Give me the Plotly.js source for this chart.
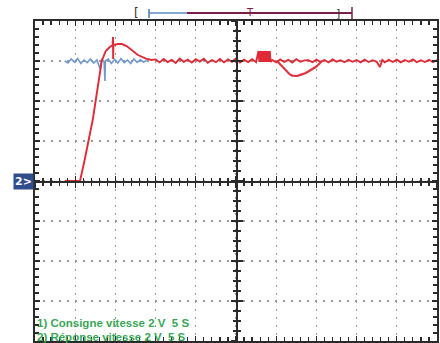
<!DOCTYPE html>
<html>
<head>
<meta charset="utf-8">
<script src="https://cdn.plot.ly/plotly-3.0.1.min.js"></script>
<style>html,body{margin:0;padding:0;background:#fff;}#chart{width:440px;height:343px;}</style>
</head>
<body>
<div id="chart"></div>
<script>
// Time in seconds (5 s/div), voltage in volts (2 V/div)
var setpointT = [3.7,4.1,4.5,4.9,5.3,5.7,6.1,6.5,6.9,7.3,7.7,8.1,8.3,8.6,8.7,8.75,9.1,9.5,9.9,10.3,10.7,11.1,11.5,11.9,12.3,12.7,13.1,13.5,13.9];
var setpointV = [6.0,5.9,6.1,5.95,6.12,5.88,6.05,5.92,6.1,5.9,6.05,5.6,6.1,5.95,5.0,6.0,6.1,5.88,6.08,5.9,6.12,5.92,6.05,5.88,6.1,5.93,6.06,5.95,6.02];

var responseT = [3.7,5.6,6.2,7.2,8.3,8.8,9.3,9.65,9.7,9.72,9.75,10.3,10.8,11.4,12.0,12.8,13.8,14.5,
  15.0,15.5,16.0,16.5,17.0,17.5,18.0,18.5,19.0,19.5,20.0,20.5,21.0,21.5,22.0,22.5,23.0,23.5,24.0,24.5,25.0,25.5,26.0,26.5,27.0,27.5,
  27.8,27.9,28.0,28.1,28.2,28.3,28.4,28.5,28.6,28.7,28.8,28.9,29.0,29.1,29.2,29.3,
  29.5,30.0,30.5,31.0,31.5,32.0,32.5,33.0,33.5,34.0,34.5,35.0,35.5,36.0,36.5,37.0,37.5,38.0,38.5,39.0,39.5,40.0,40.5,41.0,41.5,42.0,42.5,42.9,43.2,43.5,44.0,44.5,45.0,45.5,46.0,46.5,47.0,47.5,48.0,48.5,49.0,49.5,50.0];
var responseV = [0.0,0.0,1.1,3.1,6.0,6.5,6.7,6.8,7.2,6.1,6.8,6.85,6.85,6.75,6.55,6.3,6.12,6.05,
  6.08,5.93,6.10,5.95,6.06,5.90,6.12,5.96,6.07,5.92,6.09,5.97,6.11,5.91,6.05,5.94,6.10,5.93,6.08,5.96,6.12,5.92,6.07,5.95,6.09,5.94,
  6.5,5.95,6.5,5.95,6.5,5.95,6.5,5.95,6.5,5.95,6.5,5.95,6.5,5.95,6.5,5.95,
  6.05,5.93,6.08,5.95,6.06,5.92,6.09,5.96,6.03,6.04,5.94,6.07,5.96,6.05,5.93,6.08,5.97,6.04,5.94,6.06,5.96,6.05,5.93,6.07,5.95,6.04,5.96,5.7,6.05,5.94,6.06,5.95,6.07,5.93,6.05,5.96,6.08,5.94,6.04,5.95,6.06,5.94,6.05];

var dipT = [30.1,30.6,30.9,31.3,31.7,32.0,32.6,33.1,33.6,34.1,34.5,34.9,35.2,35.7];
var dipV = [6.0,5.8,5.7,5.5,5.33,5.27,5.25,5.32,5.39,5.5,5.58,5.7,5.8,6.0];

var channelLabels = ["1) Consigne vitesse 2 V&nbsp;&nbsp;5 S", "2) Réponse vitesse 2 V&nbsp;&nbsp;5 S"];

var inkColor = '#2b2b2b';
var gridStyle = {showgrid:true, gridcolor:'#9a9a9a', gridwidth:1.2, griddash:'1.5px,6.5px'};

function centerAxis(extra){
  var a = {showgrid:false, zeroline:false, showticklabels:false, showline:true, linecolor:inkColor, linewidth:1.5,
    ticklen:5, tickwidth:1.3, tickcolor:inkColor,
    minor:{ticks:extra.ticks, ticklen:3, tickcolor:inkColor, tickwidth:1.2, showgrid:false}};
  for (var k in extra) a[k]=extra[k];
  a.minor.ticks = extra.ticks;
  return a;
}

var traces = [
  {x:setpointT, y:setpointV, mode:'lines', line:{color:'#7198cc', width:1.6}, hoverinfo:'skip'},
  {x:responseT, y:responseV, mode:'lines', line:{color:'#e02a36', width:1.9}, hoverinfo:'skip'},
  {x:dipT, y:dipV, mode:'lines', line:{color:'#dc3440', width:2.2}, hoverinfo:'skip'},
  {x:[null], y:[null], xaxis:'x2', yaxis:'y', hoverinfo:'skip'},
  {x:[null], y:[null], xaxis:'x3', yaxis:'y', hoverinfo:'skip'},
  {x:[null], y:[null], xaxis:'x', yaxis:'y2', hoverinfo:'skip'},
  {x:[null], y:[null], xaxis:'x', yaxis:'y3', hoverinfo:'skip'}
];

function px2paperX(p){ return (p-35)/402; }
function px2paperY(p){ return (341-p)/320; }

var layout = {
  width:440, height:343,
  margin:{l:35, r:3, t:21, b:2},
  paper_bgcolor:'#ffffff', plot_bgcolor:'#ffffff',
  showlegend:false,
  xaxis: Object.assign({range:[0,50], tick0:0, dtick:5, showticklabels:false, zeroline:false,
    showline:true, linecolor:inkColor, linewidth:2, mirror:'ticks', ticks:'inside', ticklen:5, tickwidth:1.3, tickcolor:inkColor,
    minor:{dtick:1, ticks:'inside', ticklen:4, tickwidth:1.2, tickcolor:inkColor, showgrid:false}}, gridStyle),
  yaxis: Object.assign({range:[-8,8], tick0:0, dtick:2, showticklabels:false, zeroline:false,
    showline:true, linecolor:inkColor, linewidth:2, mirror:'ticks', ticks:'inside', ticklen:5, tickwidth:1.3, tickcolor:inkColor,
    minor:{dtick:0.4, ticks:'inside', ticklen:4, tickwidth:1.2, tickcolor:inkColor, showgrid:false}}, gridStyle),
  xaxis2: centerAxis({overlaying:'x', anchor:'free', position:0.5, range:[0,50], tick0:0, dtick:5, ticks:'outside', side:'bottom'}),
  xaxis3: centerAxis({overlaying:'x', anchor:'free', position:0.5, range:[0,50], tick0:0, dtick:5, ticks:'inside', side:'bottom'}),
  yaxis2: centerAxis({overlaying:'y', anchor:'free', position:0.5, range:[-8,8], tick0:0, dtick:2, ticks:'outside', side:'left'}),
  yaxis3: centerAxis({overlaying:'y', anchor:'free', position:0.5, range:[-8,8], tick0:0, dtick:2, ticks:'inside', side:'left'}),
  shapes:[
    {type:'line', xref:'paper', yref:'paper', x0:px2paperX(149), x1:px2paperX(187), y0:px2paperY(13), y1:px2paperY(13), line:{color:'#5b8ec6', width:1.5}},
    {type:'line', xref:'paper', yref:'paper', x0:px2paperX(187), x1:px2paperX(352), y0:px2paperY(13), y1:px2paperY(13), line:{color:'#7a1f4a', width:2}},
    {type:'line', xref:'paper', yref:'paper', x0:px2paperX(149), x1:px2paperX(149), y0:px2paperY(9), y1:px2paperY(18), line:{color:'#4a78b0', width:1.5}},
    {type:'line', xref:'paper', yref:'paper', x0:px2paperX(352), x1:px2paperX(352), y0:px2paperY(7), y1:px2paperY(19), line:{color:'#7a1f4a', width:1.5}}
  ],
  annotations:[
    {xref:'paper', yref:'paper', x:px2paperX(136), y:px2paperY(13), text:'[', showarrow:false, font:{family:'DejaVu Sans', size:12, color:'#333'}, xanchor:'center', yanchor:'middle'},
    {xref:'paper', yref:'paper', x:px2paperX(250), y:px2paperY(12), text:'T', showarrow:false, font:{family:'DejaVu Sans', size:10, color:'#7a1f4a'}, xanchor:'center', yanchor:'middle'},
    {xref:'paper', yref:'paper', x:px2paperX(338), y:px2paperY(13), text:']', showarrow:false, font:{family:'DejaVu Sans', size:11, color:'#333'}, xanchor:'center', yanchor:'middle'},
    {xref:'paper', yref:'y', x:px2paperX(23), y:0, text:'<b>2></b>', showarrow:false, bgcolor:'#2f4c8c', borderpad:1,
      font:{family:'DejaVu Sans', size:11, color:'#ffffff'}, xanchor:'center', yanchor:'middle'},
    {xref:'paper', yref:'paper', x:0.0, y:px2paperY(323), text:'<b>'+channelLabels[0]+'</b>', showarrow:false, xanchor:'left', yanchor:'middle',
      font:{family:'Liberation Sans', size:11.5, color:'#3aa657'}},
    {xref:'paper', yref:'paper', x:0.0, y:px2paperY(337), text:'<b>'+channelLabels[1]+'</b>', showarrow:false, xanchor:'left', yanchor:'middle',
      font:{family:'Liberation Sans', size:11.5, color:'#3aa657'}}
  ]
};

Plotly.newPlot('chart', traces, layout, {staticPlot:true, displayModeBar:false});
</script>
</body>
</html>
